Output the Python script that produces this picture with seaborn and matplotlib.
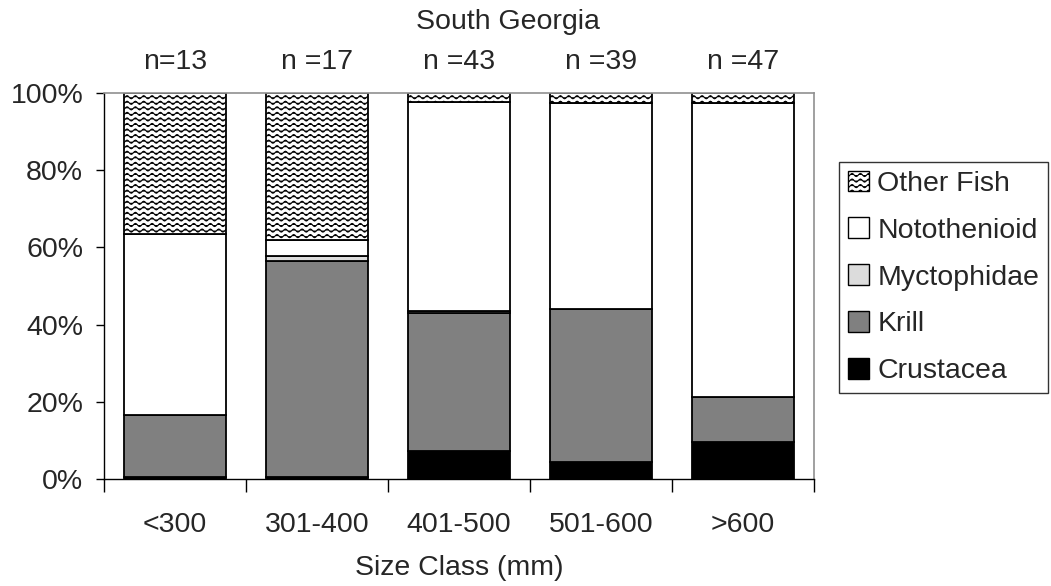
import warnings
warnings.filterwarnings("ignore")
import numpy as np
import matplotlib
matplotlib.use("Agg")
import matplotlib.pyplot as plt
import matplotlib.hatch as mhatch
from matplotlib.path import Path
from matplotlib.patches import Patch
import seaborn as sns

# ---------------- data ----------------
categories = ["<300", "301-400", "401-500", "501-600", ">600"]
n_labels = ["n=13", "n =17", "n =43", "n =39", "n =47"]
crustacea = [0.5, 0.5, 7.3, 4.4, 9.6]
krill = [16.1, 56.0, 35.7, 39.6, 11.6]
myctophidae = [0.0, 1.3, 0.5, 0.0, 0.0]
notothenioid = [47.0, 4.2, 54.2, 53.4, 76.2]
other_fish = [36.4, 38.0, 2.3, 2.6, 2.6]
y_ticks = [0, 20, 40, 60, 80, 100]
y_ticklabels = ["0%", "20%", "40%", "60%", "80%", "100%"]


# ---------------- custom wavy hatch ----------------
class WavyHatch(mhatch.HatchPatternBase):
    def __init__(self, hatch, density):
        self.num_rows = hatch.count("~") * density
        self.npts = 97
        self.num_vertices = self.num_rows * self.npts

    def set_vertices_and_codes(self, vertices, codes):
        xs = np.linspace(0, 1, self.npts)
        for i in range(self.num_rows):
            y0 = (i + 0.5) / self.num_rows
            amp = 0.28 / self.num_rows
            ys = y0 + amp * np.sin(2 * np.pi * 12 * xs)
            sl = slice(i * self.npts, (i + 1) * self.npts)
            vertices[sl, 0] = xs
            vertices[sl, 1] = ys
            codes[sl] = Path.LINETO
            codes[i * self.npts] = Path.MOVETO


mhatch._hatch_types.append(WavyHatch)

sns.set_style("white")
plt.rcParams["font.family"] = ["Liberation Sans", "DejaVu Sans"]
plt.rcParams["hatch.linewidth"] = 0.8
FS = 20.5

fig = plt.figure(figsize=(10.51, 5.86), dpi=100)
ax = fig.add_axes([104 / 1051, 1 - 479 / 586, (814 - 104) / 1051, (479 - 93) / 586])

series = [
    ("Crustacea", crustacea, "#000000", None),
    ("Krill", krill, "#808080", None),
    ("Myctophidae", myctophidae, "#dcdcdc", None),
    ("Notothenioid", notothenioid, "#ffffff", None),
    ("Other Fish", other_fish, "#ffffff", "~~~"),
]

bottom = np.zeros(len(categories))
handles = []
for name, vals, col, hatch in series:
    vals = np.asarray(vals, dtype=float)
    kws = dict(bottom=bottom.copy(), edgecolor="black", linewidth=1.3)
    if hatch:
        kws["hatch"] = hatch
    sns.barplot(x=categories, y=vals, order=categories, color=col, saturation=1,
                width=0.72, errorbar=None, ax=ax, **kws)
    bottom += vals
    handles.append(Patch(facecolor=col, edgecolor="black", linewidth=1.0,
                         hatch=hatch, label=name))

ax.set_xlim(-0.5, len(categories) - 0.5)
ax.set_ylim(0, 100)
ax.set_yticks(y_ticks)
ax.set_yticklabels(y_ticklabels, fontsize=FS)
ax.tick_params(axis="y", direction="out", length=6, width=1, color="black", pad=9, left=True)

ax.set_xticks(range(len(categories)))
ax.set_xticklabels(categories, fontsize=FS)
ax.tick_params(axis="x", which="major", length=0, pad=24)
ax.set_xticks(np.arange(-0.5, len(categories), 1.0), minor=True)
ax.tick_params(axis="x", which="minor", direction="out", length=9, width=1, color="black", bottom=True)
ax.set_xlabel("Size Class (mm)", fontsize=FS, labelpad=12)
ax.set_ylabel("")

for side in ["left", "bottom"]:
    ax.spines[side].set_color("black")
    ax.spines[side].set_linewidth(1.0)
for side in ["top", "right"]:
    ax.spines[side].set_color("#909090")
    ax.spines[side].set_linewidth(1.2)
    ax.spines[side].set_visible(True)

for i, lab in enumerate(n_labels):
    ax.text(i, 108, lab, ha="center", va="center", fontsize=FS, clip_on=False)

fig.text(508 / 1051, 1 - 22 / 586, "South Georgia", ha="center", va="center", fontsize=FS)

leg = fig.legend(handles=handles[::-1], loc="upper left",
                 bbox_to_anchor=(839 / 1051, 1 - 162 / 586), bbox_transform=fig.transFigure,
                 fontsize=FS, frameon=True, fancybox=False, edgecolor="black",
                 handlelength=0.75, handleheight=0.75, handletextpad=0.3,
                 labelspacing=0.72, borderpad=0.3, borderaxespad=0)
leg.get_frame().set_linewidth(1.0)

fig.savefig("out.png", dpi=100)
